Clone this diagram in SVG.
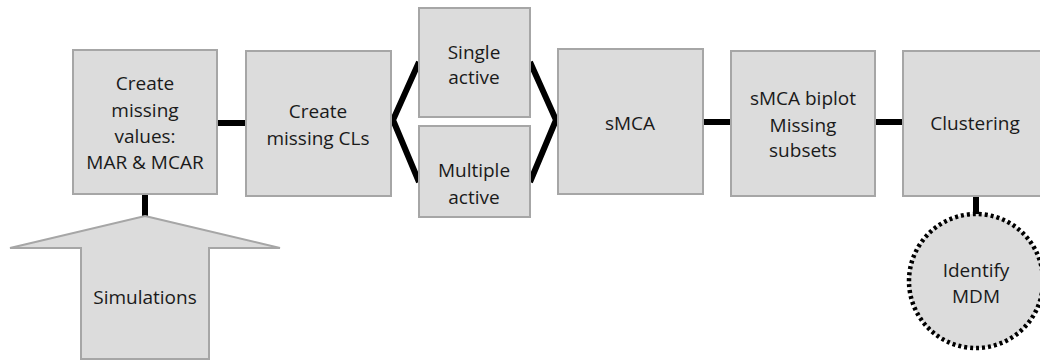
<svg xmlns="http://www.w3.org/2000/svg" width="1040" height="361" viewBox="0 0 1040 361">
  <style>
    .box { fill: #dcdcdc; stroke: #a6a6a6; stroke-width: 2; }
    .link { fill: none; stroke: #000; stroke-width: 6; }
    .lbl { font-family: "Open Sans", "Noto Sans", sans-serif; font-size: 19px; fill: #1a1a1a; text-anchor: middle; }
  </style>
  <rect width="1040" height="361" fill="#ffffff"/>

  <!-- connectors -->
  <g id="connectors">
    <line class="link" x1="145" y1="194" x2="145" y2="217"/>
    <line class="link" x1="217" y1="123" x2="246" y2="123"/>
    <polyline class="link" points="419,62 393,120 419,182" stroke-linejoin="miter"/>
    <polyline class="link" points="530,62 556,120 530,182" stroke-linejoin="miter"/>
    <line class="link" x1="703" y1="122" x2="731" y2="122"/>
    <line class="link" x1="875" y1="122" x2="903" y2="122"/>
    <line class="link" x1="976" y1="196" x2="976" y2="214"/>
  </g>

  <g id="create-missing-values">
    <rect class="box" x="73" y="50" width="144" height="144"/>
    <text class="lbl" x="145" y="90">Create</text>
    <text class="lbl" x="145" y="117">missing</text>
    <text class="lbl" x="145" y="143">values:</text>
    <text class="lbl" x="145" y="169">MAR &amp; MCAR</text>
  </g>

  <g id="create-missing-cls">
    <rect class="box" x="246" y="51" width="145" height="145"/>
    <text class="lbl" x="318" y="118">Create</text>
    <text class="lbl" x="318" y="145">missing CLs</text>
  </g>

  <g id="single-active">
    <rect class="box" x="419" y="8" width="111" height="109"/>
    <text class="lbl" x="474" y="59">Single</text>
    <text class="lbl" x="474" y="84">active</text>
  </g>

  <g id="multiple-active">
    <rect class="box" x="419" y="126" width="111" height="91"/>
    <text class="lbl" x="474" y="177">Multiple</text>
    <text class="lbl" x="474" y="204">active</text>
  </g>

  <g id="smca">
    <rect class="box" x="558" y="49" width="145" height="145"/>
    <text class="lbl" x="630" y="130">sMCA</text>
  </g>

  <g id="smca-biplot">
    <rect class="box" x="731" y="51" width="144" height="145"/>
    <text class="lbl" x="803" y="105">sMCA biplot</text>
    <text class="lbl" x="803" y="132">Missing</text>
    <text class="lbl" x="803" y="157">subsets</text>
  </g>

  <g id="clustering">
    <rect class="box" x="903" y="51" width="145" height="145"/>
    <text class="lbl" x="975" y="130">Clustering</text>
  </g>

  <g id="identify-mdm">
    <circle cx="976" cy="281" r="67" fill="#dcdcdc" stroke="#000" stroke-width="4.5" stroke-dasharray="3 3"/>
    <text class="lbl" x="976" y="277">Identify</text>
    <text class="lbl" x="976" y="303">MDM</text>
  </g>

  <g id="simulations">
    <polygon class="box" points="145,216 280,248 209,248 209,359 81,359 81,248 10,248"/>
    <text class="lbl" x="145" y="304">Simulations</text>
  </g>
</svg>
